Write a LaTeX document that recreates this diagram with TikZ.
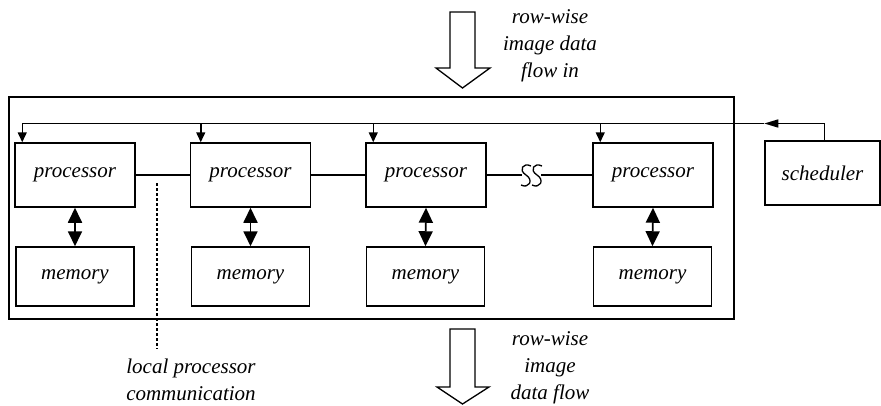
\documentclass[tikz,border=0pt]{standalone}
\usepackage{fontspec}
\setmainfont{Liberation Serif}
\usetikzlibrary{arrows.meta,calc}
\begin{document}
\begin{tikzpicture}[x=1pt,y=-1pt,
  line width=1.5pt,
  lbl/.style={font=\itshape\fontsize{21}{27}\selectfont, align=center, inner sep=0pt},
  unit/.style={draw, lbl, minimum height=64pt, minimum width=120pt},
  mem/.style={draw, lbl, minimum height=59pt, minimum width=118pt},
  feed/.style={-{Triangle[width=9pt,length=10pt]}},
  pm/.style={{Triangle[width=14pt,length=15pt]}-{Triangle[width=14pt,length=15pt]}, line width=1.8pt},
  bigarrow/.style={draw, line width=1.3pt, fill=white}
]
\useasboundingbox (0,0) rectangle (881,405);

% enclosing array board
\draw (9,97) rectangle (734,319);

% processors and their memories
\node[unit] (p1) at (75,175) {processor};
\node[unit] (p2) at (250.5,175) {processor};
\node[unit] (p3) at (426,175) {processor};
\node[unit] (p4) at (653,175) {processor};
\node[mem] (m1) at (75,276.5) {memory};
\node[mem] (m2) at (250.5,276.5) {memory};
\node[mem] (m3) at (425.5,276.5) {memory};
\node[mem] (m4) at (652.5,276.5) {memory};
\node[draw, lbl, minimum height=64pt, minimum width=115pt] (s) at (822.5,173) {scheduler};

% processor <-> memory
\foreach \i in {1,...,4} \draw[pm] (p\i.south) -- (m\i.north);

% neighbour links
\draw (p1.east) -- (p2.west);
\draw (p2.east) -- (p3.west);
\coordinate (g1) at (522,175);
\coordinate (g2) at (541,175);
\draw (p3.east) -- (g1);
\draw (g2) -- (p4.west);
% break marks on the link
\foreach \cx in {526,537}
  \draw[line width=1.3pt] (\cx+5,166) .. controls (\cx-3,162) and (\cx-8,170) .. (\cx,175)
        .. controls (\cx+8,180) and (\cx+3,189) .. (\cx-5,185);

% scheduler bus
\coordinate (bus) at (0,123.5);
\coordinate (d1) at ($(p1.north west)+(8,0)$);
\coordinate (d2) at ($(p2.north west)+(11,0)$);
\coordinate (d3) at ($(p3.north west)+(8,0)$);
\coordinate (d4) at ($(p4.north west)+(8,0)$);
\coordinate (sb) at ($(s.north west)+(60,0)$);
\coordinate (bt) at (s.west |- bus);
\draw[-{Triangle[width=8pt,length=14pt]}] (sb) |- (bt);
\draw[feed] (bt) -| (d1);
\foreach \i in {2,3,4} \draw[feed] (d\i |- bus) -- (d\i);

% local communication marker
\coordinate (lc) at (157,183);
\draw[line width=1.2pt, dash pattern=on 3pt off 2pt] (lc) -- (157,349);
\node[lbl] (lcl) at (191,380) {local processor\\communication};

% data flow in
\draw[bigarrow] (450,12) -- (475,12) -- (475,68) -- (490,68) -- (462.5,88) -- (436,68) -- (450,68) -- cycle;
\node[lbl] (inl) at (550,46) {row-wise\\image data\\flow in};

% data flow out
\draw[bigarrow] (450,329) -- (475,329) -- (475,387) -- (489,387) -- (462.5,404) -- (437,387) -- (450,387) -- cycle;
\node[lbl] (outl) at (550,368) {row-wise\\image\\data flow};
\end{tikzpicture}
\end{document}
